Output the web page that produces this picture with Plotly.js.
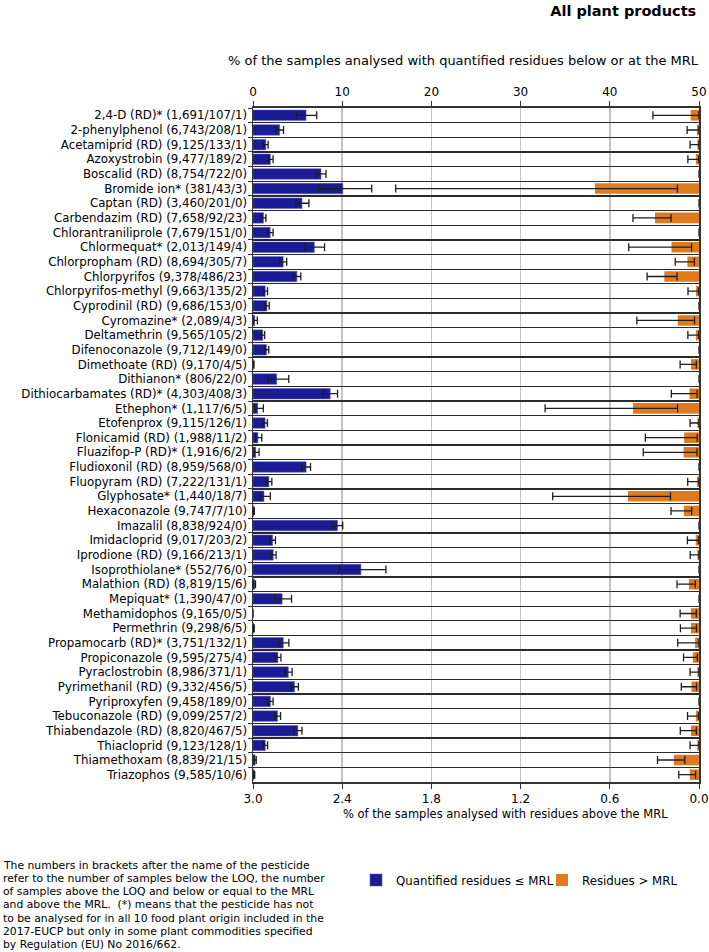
<!DOCTYPE html>
<html>
<head>
<meta charset="utf-8">
<script src="https://cdn.plot.ly/plotly-3.0.1.min.js"></script>
<style>
  body { margin: 0; background: #fff; }
  #plotDiv { width: 709px; height: 952px; }
</style>
</head>
<body>
<div id="plotDiv"></div>
<script>
const pesticides = [
  "2,4-D (RD)* (1,691/107/1)", "2-phenylphenol (6,743/208/1)", "Acetamiprid (RD) (9,125/133/1)",
  "Azoxystrobin (9,477/189/2)", "Boscalid (RD) (8,754/722/0)", "Bromide ion* (381/43/3)",
  "Captan (RD) (3,460/201/0)", "Carbendazim (RD) (7,658/92/23)", "Chlorantraniliprole (7,679/151/0)",
  "Chlormequat* (2,013/149/4)", "Chlorpropham (RD) (8,694/305/7)", "Chlorpyrifos (9,378/486/23)",
  "Chlorpyrifos-methyl (9,663/135/2)", "Cyprodinil (RD) (9,686/153/0)", "Cyromazine* (2,089/4/3)",
  "Deltamethrin (9,565/105/2)", "Difenoconazole (9,712/149/0)", "Dimethoate (RD) (9,170/4/5)",
  "Dithianon* (806/22/0)", "Dithiocarbamates (RD)* (4,303/408/3)", "Ethephon* (1,117/6/5)",
  "Etofenprox (9,115/126/1)", "Flonicamid (RD) (1,988/11/2)", "Fluazifop-P (RD)* (1,916/6/2)",
  "Fludioxonil (RD) (8,959/568/0)", "Fluopyram (RD) (7,222/131/1)", "Glyphosate* (1,440/18/7)",
  "Hexaconazole (9,747/7/10)", "Imazalil (8,838/924/0)", "Imidacloprid (9,017/203/2)",
  "Iprodione (RD) (9,166/213/1)", "Isoprothiolane* (552/76/0)", "Malathion (RD) (8,819/15/6)",
  "Mepiquat* (1,390/47/0)", "Methamidophos (9,165/0/5)", "Permethrin (9,298/6/5)",
  "Propamocarb (RD)* (3,751/132/1)", "Propiconazole (9,595/275/4)", "Pyraclostrobin (8,986/371/1)",
  "Pyrimethanil (RD) (9,332/456/5)", "Pyriproxyfen (9,458/189/0)", "Tebuconazole (RD) (9,099/257/2)",
  "Thiabendazole (RD) (8,820/467/5)", "Thiacloprid (9,123/128/1)", "Thiamethoxam (8,839/21/15)",
  "Triazophos (9,585/10/6)"
];

// % quantified residues <= MRL, with confidence limits
const quantPct = [5.95, 2.99, 1.44, 1.95, 7.62, 10.07, 5.49, 1.18, 1.93, 6.88, 3.39, 4.92, 1.38, 1.56, 0.19,
  1.09, 1.51, 0.044, 2.66, 8.66, 0.53, 1.36, 0.55, 0.31, 5.96, 1.78, 1.23, 0.072, 9.47, 2.20, 2.27, 12.10,
  0.17, 3.27, 0, 0.064, 3.40, 2.79, 3.96, 4.66, 1.96, 2.75, 5.03, 1.38, 0.24, 0.104];
const quantLow = [4.90, 2.60, 1.20, 1.69, 7.08, 7.38, 4.78, 0.955, 1.63, 5.85, 3.02, 4.50, 1.16, 1.32, 0.052,
  0.89, 1.28, 0.012, 1.67, 7.87, 0.195, 1.14, 0.274, 0.114, 5.49, 1.49, 0.73, 0.029, 8.89, 1.91, 1.98, 9.66,
  0.095, 2.41, null, 0.024, 2.85, 2.47, 3.58, 4.25, 1.69, 2.43, 4.59, 1.15, 0.147, 0.050];
const quantHigh = [7.14, 3.42, 1.70, 2.25, 8.18, 13.31, 6.27, 1.45, 2.25, 8.02, 3.78, 5.36, 1.63, 1.82, 0.489,
  1.31, 1.77, 0.112, 4.01, 9.48, 1.16, 1.62, 0.983, 0.679, 6.45, 2.11, 1.94, 0.148, 10.06, 2.52, 2.59, 14.90,
  0.280, 4.32, null, 0.140, 4.02, 3.13, 4.38, 5.09, 2.25, 3.09, 5.49, 1.64, 0.362, 0.192];

// % residues > MRL, with confidence limits
const abovePct = [0.056, 0.014, 0.011, 0.021, 0, 0.70, 0, 0.296, 0, 0.185, 0.078, 0.233, 0.020, 0, 0.143,
  0.021, 0, 0.054, 0, 0.064, 0.443, 0.011, 0.100, 0.104, 0, 0.014, 0.478, 0.102, 0, 0.022, 0.011, 0,
  0.068, 0, 0.055, 0.054, 0.026, 0.041, 0.011, 0.051, 0, 0.021, 0.054, 0.011, 0.169, 0.062];
const aboveLow = [0.001, 0.0004, 0.0003, 0.0025, null, 0.145, null, 0.188, null, 0.050, 0.031, 0.148, 0.0025, null, 0.030,
  0.0025, null, 0.018, null, 0.013, 0.144, 0.0003, 0.012, 0.013, null, 0.0003, 0.192, 0.049, null, 0.0026, 0.0003, null,
  0.025, null, 0.018, 0.017, 0.0007, 0.011, 0.0003, 0.017, null, 0.0026, 0.018, 0.0003, 0.095, 0.023];
const aboveHigh = [0.31, 0.080, 0.060, 0.075, null, 2.04, null, 0.444, null, 0.473, 0.160, 0.349, 0.074, null, 0.418,
  0.075, null, 0.127, null, 0.186, 1.035, 0.060, 0.361, 0.375, null, 0.076, 0.984, 0.188, null, 0.078, 0.059, null,
  0.148, null, 0.127, 0.125, 0.143, 0.104, 0.060, 0.119, null, 0.077, 0.126, 0.060, 0.279, 0.136];

const footnoteLines = [
  "The numbers in brackets after the name of the pesticide",
  "refer to the number of samples below the LOQ, the number",
  "of samples above the LOQ and below or equal to the MRL",
  "and above the MRL.  (*) means that the pesticide has not",
  "to be analysed for in all 10 food plant origin included in the",
  "2017-EUCP but only in some plant commodities specified",
  "by Regulation (EU) No 2016/662.",
];

const FONT = "DejaVu Sans, sans-serif";

const plus = (v, hi) => v.map((d, i) => hi[i] == null ? null : hi[i] - d);
const minus = (v, lo) => v.map((d, i) => lo[i] == null ? null : d - lo[i]);

const errStyle = { type: "data", symmetric: false, color: "#1e1e1e", thickness: 1.3, width: 4 };

const quantTrace = {
  type: "bar",
  orientation: "h",
  name: "Quantified residues ≤ MRL",
  legend: "legend",
  x: quantPct,
  y: pesticides,
  xaxis: "x",
  yaxis: "y",
  width: 0.72,
  marker: { color: "#1b1b96", line: { color: "#5a5ac8", width: 0.5 } },
  error_x: Object.assign({ array: plus(quantPct, quantHigh), arrayminus: minus(quantPct, quantLow) }, errStyle),
  hoverinfo: "x+y",
};

const aboveTrace = {
  type: "bar",
  orientation: "h",
  name: "Residues > MRL",
  legend: "legend2",
  x: abovePct,
  y: pesticides,
  xaxis: "x2",
  yaxis: "y",
  width: 0.72,
  marker: { color: "#e07a1c" },
  error_x: Object.assign({ array: plus(abovePct, aboveHigh), arrayminus: minus(abovePct, aboveLow) }, errStyle),
  hoverinfo: "x+y",
};

// plot area spans 108px..782px vertically, 253px..699px horizontally
const pyFromPx = (px) => (782 - px) / 674;
const pxFromPx = (px) => (px - 253) / 446;

const annotations = [
  {
    text: "% of the samples analysed with quantified residues below or at the MRL",
    xref: "paper", yref: "paper", x: 0.471, y: 1.07,
    xanchor: "center", yanchor: "middle", showarrow: false,
    font: { size: 13 },
  },
  {
    text: "% of the samples analysed with residues above the MRL",
    xref: "paper", yref: "paper", x: 0.567, y: -0.047,
    xanchor: "center", yanchor: "middle", showarrow: false,
    font: { size: 11.5 },
  },
];
footnoteLines.forEach((line, i) => {
  annotations.push({
    text: line,
    xref: "paper", yref: "paper", x: pxFromPx(1), y: pyFromPx(865 + i * 13.3),
    xanchor: "left", yanchor: "middle", align: "left", showarrow: false,
    font: { size: 10.8 },
  });
});

const legendStyle = {
  orientation: "h",
  xanchor: "left",
  yanchor: "middle",
  y: pyFromPx(880),
  font: { size: 11.8 },
  itemclick: false,
  bgcolor: "rgba(0,0,0,0)",
};

const layout = {
  width: 709,
  height: 952,
  margin: { l: 253, r: 10, t: 108, b: 170 },
  paper_bgcolor: "#ffffff",
  plot_bgcolor: "#ffffff",
  font: { family: FONT, size: 12, color: "#000" },
  showlegend: true,
  title: {
    text: "<b>All plant products</b>",
    font: { family: FONT, size: 14.5, color: "#000" },
    xref: "container", x: 0.982, xanchor: "right",
    yref: "container", y: 0.988, yanchor: "middle",
  },
  xaxis: {
    side: "top",
    range: [0, 50],
    tick0: 0,
    dtick: 10,
    showgrid: true,
    gridcolor: "#c4c4c4",
    gridwidth: 1.5,
    zeroline: false,
    showline: true,
    linecolor: "#333",
    linewidth: 2,
    ticks: "outside",
    ticklen: 5,
    tickcolor: "#333",
    tickfont: { size: 12 },
  },
  xaxis2: {
    overlaying: "x",
    side: "bottom",
    range: [3, 0],
    tick0: 0,
    dtick: 0.6,
    tickformat: ".1f",
    showgrid: false,
    zeroline: false,
    showline: true,
    linecolor: "#333",
    linewidth: 2,
    ticks: "outside",
    ticklen: 5,
    tickcolor: "#333",
    tickfont: { size: 12 },
  },
  yaxis: {
    type: "category",
    autorange: "reversed",
    tickmode: "linear",
    tick0: 0,
    dtick: 1,
    tickson: "boundaries",
    ticks: "outside",
    ticklen: 4,
    tickcolor: "#333",
    ticklabelstandoff: 2,
    showgrid: true,
    gridcolor: "#2a2a2a",
    gridwidth: 1.3,
    showline: true,
    linecolor: "#333",
    linewidth: 1.5,
    mirror: true,
    tickfont: { size: 11.8 },
  },
  legend: Object.assign({ x: pxFromPx(356) }, legendStyle),
  legend2: Object.assign({ x: pxFromPx(542) }, legendStyle),
  annotations: annotations,
};

Plotly.newPlot("plotDiv", [quantTrace, aboveTrace], layout, { displayModeBar: false, staticPlot: true });
</script>
</body>
</html>
